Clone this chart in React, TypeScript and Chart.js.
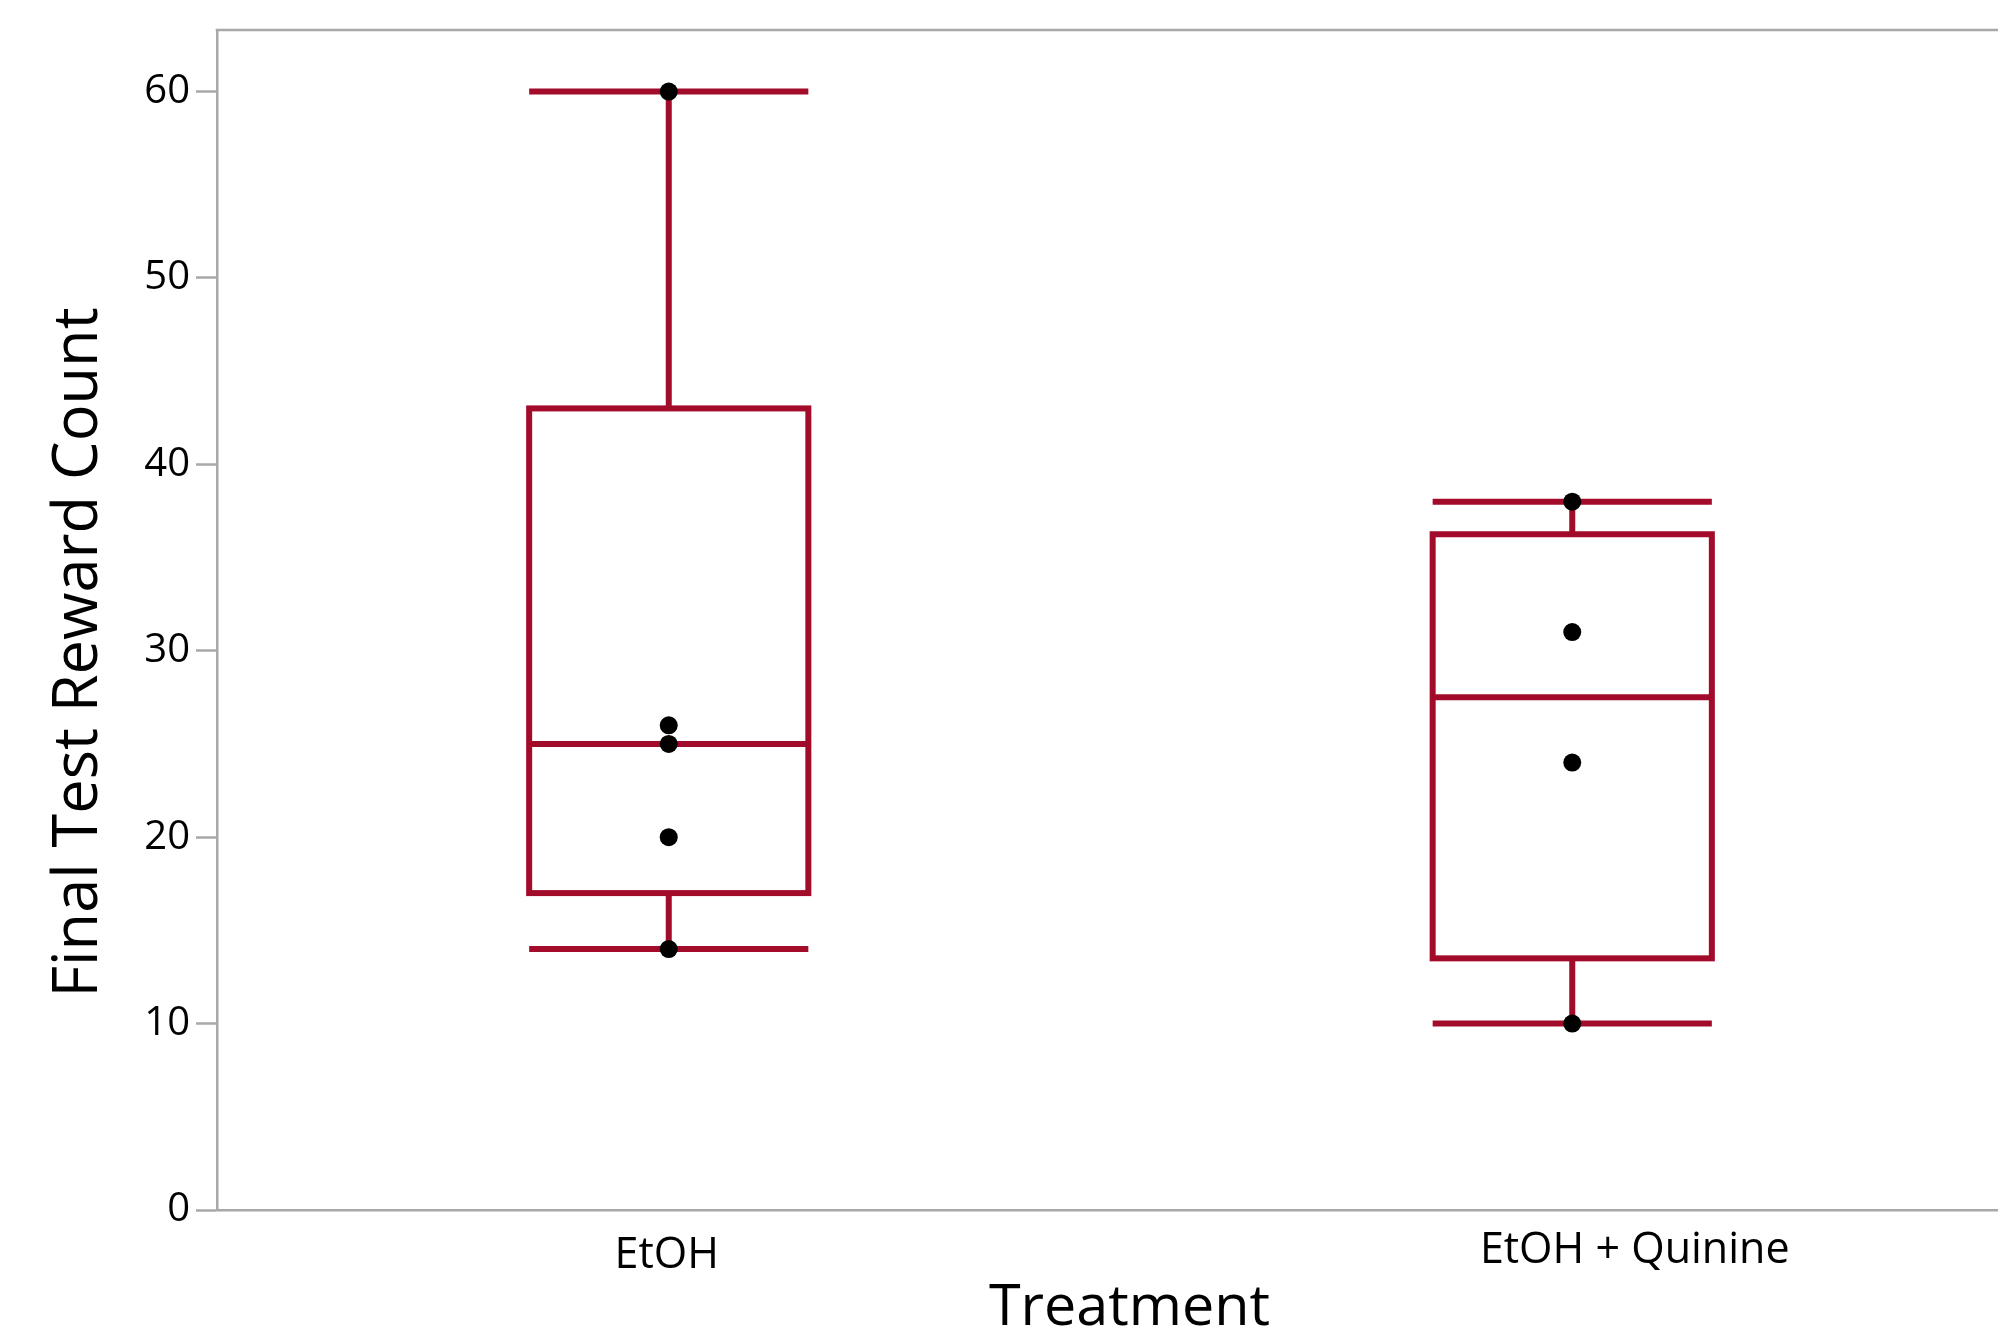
import React, { useEffect, useRef } from 'react';
import { Chart, registerables } from 'chart.js';

Chart.register(...registerables);

// ---- data ----
const categories = ['EtOH', 'EtOH + Quinine'];
const q1 = [17, 13.5];
const median = [25, 27.5];
const q3 = [43, 36.25];
const whiskerLow = [14, 10];
const whiskerHigh = [60, 38];
const etohPoints = [60, 26, 25, 20, 14];
const quininePoints = [38, 31, 24, 10];
const yTicks = [0, 10, 20, 30, 40, 50, 60];
const xTitle = 'Treatment';
const yTitle = 'Final Test Reward Count';

// ---- styling / layout ----
const RED = '#a20b2a';
const GRAY = '#a8a8a8';
const FONT = '"Open Sans", "Noto Sans", sans-serif';
const LW = 6;
const CANVAS_W = 2033;
const CANVAS_H = 1341;
const labelShift = [-2, 62.5];
const labelBaseline = [57.7, 53.3];

const boxPlugin = {
  id: 'boxWhiskers',
  afterDatasetDraw(chart: any, args: any) {
    if (args.index !== 0) return;
    const ctx = chart.ctx;
    const ys = chart.scales.y;
    const meta = chart.getDatasetMeta(0);
    meta.data.forEach((bar: any, i: number) => {
      const { x, width } = bar.getProps(['x', 'width'], true);
      const half = width / 2;
      const yMed = ys.getPixelForValue(median[i]);
      const yQ1 = ys.getPixelForValue(q1[i]);
      const yQ3 = ys.getPixelForValue(q3[i]);
      const yLo = ys.getPixelForValue(whiskerLow[i]);
      const yHi = ys.getPixelForValue(whiskerHigh[i]);
      ctx.save();
      ctx.strokeStyle = RED;
      ctx.lineWidth = LW;
      ctx.lineCap = 'butt';
      ctx.lineJoin = 'miter';
      const seg = (x1: number, y1: number, x2: number, y2: number) => {
        ctx.beginPath();
        ctx.moveTo(x1, y1);
        ctx.lineTo(x2, y2);
        ctx.stroke();
      };
      // box (stroke centred on the quartile values)
      ctx.strokeRect(x - half, yQ3, width, yQ1 - yQ3);
      seg(x - half, yMed, x + half, yMed);
      seg(x, yQ3, x, yHi);
      seg(x, yQ1, x, yLo);
      seg(x - half, yHi, x + half, yHi);
      seg(x - half, yLo, x + half, yLo);
      ctx.restore();
    });
  },
  afterDraw(chart: any) {
    const ctx = chart.ctx;
    const area = chart.chartArea;
    const xs = chart.scales.x;
    ctx.save();
    // top frame line
    ctx.strokeStyle = GRAY;
    ctx.lineWidth = 2.5;
    ctx.beginPath();
    ctx.moveTo(area.left - 1.25, area.top);
    ctx.lineTo(area.right, area.top);
    ctx.stroke();
    // x tick labels
    ctx.fillStyle = '#000';
    ctx.textAlign = 'center';
    ctx.textBaseline = 'alphabetic';
    ctx.font = `43px ${FONT}`;
    categories.forEach((c, i) => {
      ctx.fillText(c, xs.getPixelForValue(i) + labelShift[i], area.bottom + labelBaseline[i]);
    });
    // x title
    ctx.font = `57.5px ${FONT}`;
    ctx.fillText(xTitle, 1129.5, area.bottom + 115);
    // y title
    ctx.translate(96.7, 652.5);
    ctx.rotate(-Math.PI / 2);
    ctx.font = `61.3px ${FONT}`;
    ctx.fillText(yTitle, 0, 0);
    ctx.restore();
  },
};

export default function App() {
  const ref = useRef<HTMLCanvasElement | null>(null);
  useEffect(() => {
    if (!ref.current) return;
    const points = [
      ...etohPoints.map((v) => ({ x: categories[0], y: v })),
      ...quininePoints.map((v) => ({ x: categories[1], y: v })),
    ];
    const chart = new Chart(ref.current, {
      type: 'bar',
      data: {
        labels: categories,
        datasets: [
          {
            type: 'bar',
            data: categories.map((_, i) => [q1[i], q3[i]]) as any,
            backgroundColor: 'rgba(0,0,0,0)',
            borderColor: RED,
            borderWidth: 0,
            borderSkipped: false,
            barPercentage: 0.309,
            categoryPercentage: 1,
            order: 2,
          },
          {
            type: 'line',
            data: points as any,
            showLine: false,
            pointRadius: 9,
            pointHoverRadius: 9,
            pointBackgroundColor: '#000',
            pointBorderWidth: 0,
            borderColor: '#000',
            order: 1,
          },
        ],
      },
      options: {
        responsive: false,
        animation: false,
        devicePixelRatio: 1,
        layout: { padding: { top: 29, left: 0, right: 0, bottom: 0 } },
        plugins: { legend: { display: false }, tooltip: { enabled: false } },
        scales: {
          x: {
            type: 'category',
            offset: true,
            grid: { display: false },
            border: { display: true, color: GRAY, width: 2.5 },
            ticks: { display: false },
            afterFit: (s: any) => {
              s.height = 131;
            },
          },
          y: {
            type: 'linear',
            min: 0,
            max: 63.3,
            grid: {
              display: true,
              drawOnChartArea: false,
              drawTicks: true,
              tickLength: 21,
              tickColor: GRAY,
              tickWidth: 2.5,
            },
            border: { display: true, color: GRAY, width: 2.5 },
            ticks: {
              color: '#000',
              padding: 6,
              font: { family: FONT, size: 40 },
            },
            afterBuildTicks: (s: any) => {
              s.ticks = yTicks.map((v) => ({ value: v }));
            },
            afterFit: (s: any) => {
              s.width = 217;
            },
          },
        },
      },
      plugins: [boxPlugin],
    } as any);
    return () => chart.destroy();
  }, []);

  return (
    <div
      style={{
        position: 'fixed',
        left: 0,
        top: 0,
        width: 1998,
        height: 1341,
        overflow: 'hidden',
        background: '#fff',
      }}
    >
      <canvas
        ref={ref}
        width={CANVAS_W}
        height={CANVAS_H}
        style={{ width: CANVAS_W, height: CANVAS_H, display: 'block' }}
      />
    </div>
  );
}
